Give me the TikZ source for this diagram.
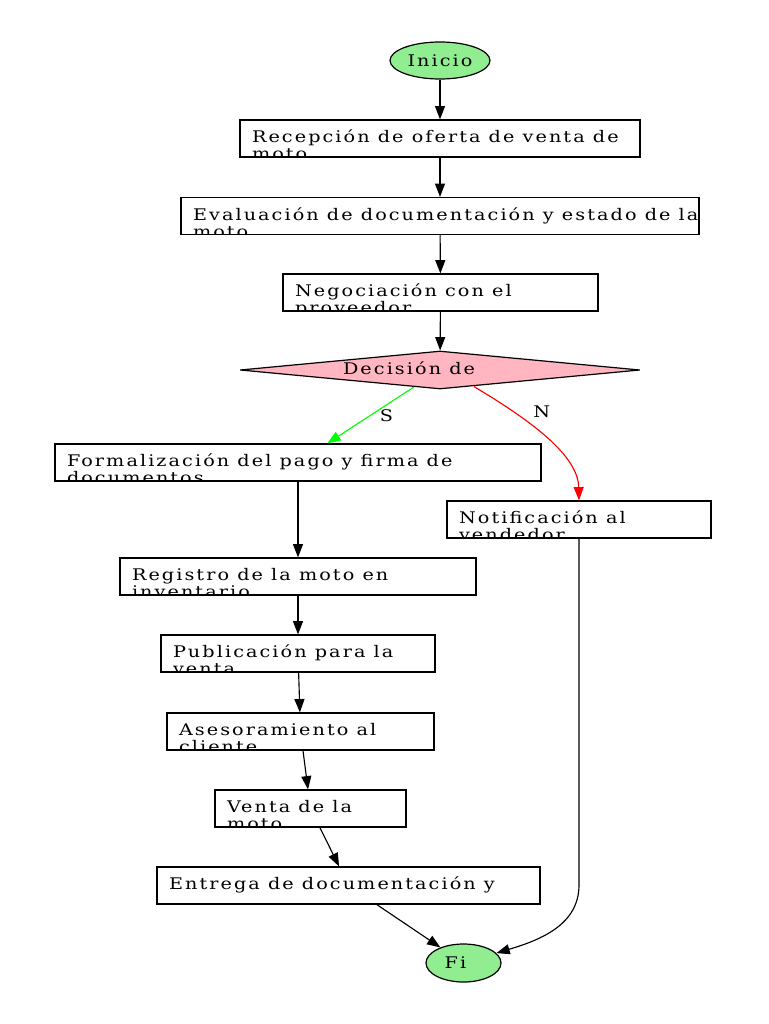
\documentclass[tikz,border=0pt]{standalone}
\usepackage{fontspec}
\setmainfont{DejaVu Serif}[FakeStretch=1.2, LetterSpace=13]
\usetikzlibrary{shapes.geometric,arrows.meta}
\definecolor{termgreen}{HTML}{90EE90}
\definecolor{decpink}{HTML}{FFB6C1}
\begin{document}
\begin{tikzpicture}[x=0.75pt,y=-0.75pt,
  every node/.style={font=\fontsize{12}{13}\selectfont},
  intext/.style={shape=rectangle, inner sep=0pt, outer sep=0pt, minimum width=0pt, minimum height=0pt, draw=none, fill=none, text=black},
  conn/.style={line width=0.85pt, -{Triangle[length=10pt,width=7.5pt]}},
  cbox/.style 2 args={draw, line width=0.9pt, shape=rectangle, fill=white, inner sep=0pt,
    minimum width=#1*0.75pt, minimum height=27.75pt,
    path picture={\node[intext, anchor=base west] at ([shift={(9pt,-16.9pt)}]path picture bounding box.north west) {\begin{tabular}[t]{@{}l@{}}#2\end{tabular}};}},
  term/.style={draw, line width=0.9pt, shape=ellipse, fill=termgreen, inner sep=0pt}
]
\useasboundingbox (0,0) rectangle (768,1024);

\node[term, minimum width=75pt, minimum height=27.75pt] (ini) at (440,60.5) {Inicio};
\node[cbox={400}{Recepción de oferta de venta de\\moto}] (rec) at (440,138.5) {};
\node[cbox={518}{Evaluación de documentación y estado de la\\moto}] (eval) at (440,216) {};
\node[cbox={315}{Negociación con el\\proveedor}] (neg) at (440.5,292.5) {};
\node[draw, line width=0.9pt, shape=diamond, fill=decpink, inner sep=0pt,
      minimum width=300pt, minimum height=28.5pt,
      path picture={\node[intext, anchor=base west] at ([shift={(-72.75pt,-3.4pt)}]path picture bounding box.center) {Decisión de};}]
      (dec) at (440,370) {};
\node[cbox={486}{Formalización del pago y firma de\\documentos}] (form) at (298,462.5) {};
\node[cbox={264}{Notificación al\\vendedor}] (notif) at (579,519.5) {};
\node[cbox={356}{Registro de la moto en\\inventario}] (reg) at (298,576.5) {};
\node[cbox={274}{Publicación para la\\venta}] (pub) at (298,653.5) {};
\node[cbox={267}{Asesoramiento al\\cliente}] (ases) at (300.5,731.5) {};
\node[cbox={191}{Venta de la\\moto}] (venta) at (310.5,808.5) {};
\node[cbox={383}{Entrega de documentación y}] (ent) at (348.5,885.5) {};
\node[term, minimum width=56.25pt, minimum height=28.5pt] (fi) at (463.5,963) {\kern-6pt Fi\kern6pt};

\draw[conn] (ini) -- (rec);
\draw[conn] (rec) -- (eval);
\draw[conn] (eval) -- (neg);
\draw[conn] (neg) -- (dec);
\draw[conn, green] (dec) -- (form) node[pos=0.5, xshift=12pt, text=black] {S};
\draw[conn, red] ([shift={(34,-3)}]dec.south) .. controls (530,420) and (578,455) .. (notif.north)
      node[pos=0.25, xshift=21pt, text=black] {N};
\draw[conn] (form) -- (reg);
\draw[conn] (reg) -- (pub);
\draw[conn] (pub) -- (ases);
\draw[conn] (ases) -- (venta);
\draw[conn] (venta) -- (ent);
\draw[conn] (ent) -- (fi);
\coordinate (nbend) at (579,885);
\draw[conn] (notif.south) -- (nbend) .. controls (579,925) and (540,940) .. (fi);
\end{tikzpicture}
\end{document}
